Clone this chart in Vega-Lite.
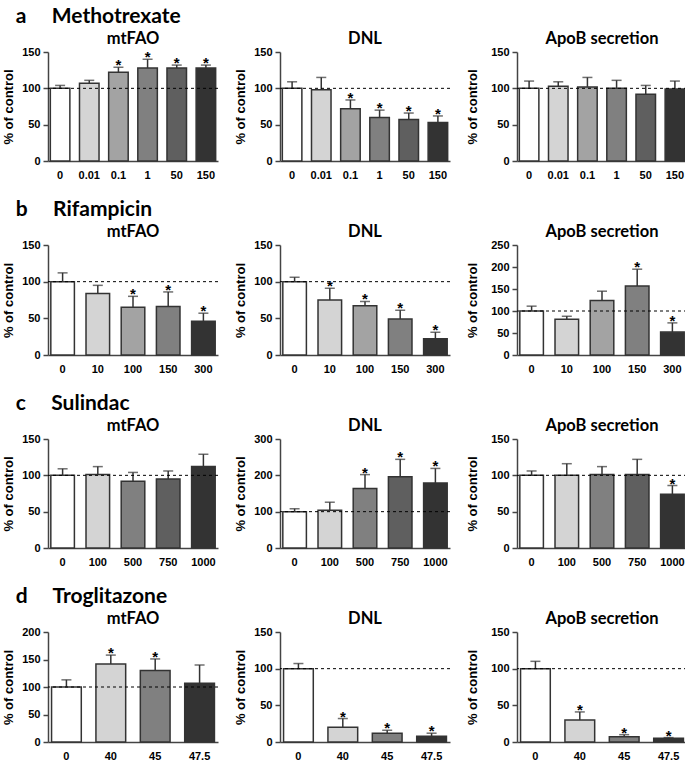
{
  "$schema": "https://vega.github.io/schema/vega-lite/v6.json",
  "padding": {"left": 2, "top": 5, "right": 0, "bottom": 0},
  "background": "white",
  "data": {"values": [
    {"drug": "Methotrexate", "assay": "mtFAO", "dose": 0, "mean": 100, "upper": 104, "sig": false},
    {"drug": "Methotrexate", "assay": "mtFAO", "dose": 0.01, "mean": 107, "upper": 111, "sig": false},
    {"drug": "Methotrexate", "assay": "mtFAO", "dose": 0.1, "mean": 122, "upper": 129, "sig": true},
    {"drug": "Methotrexate", "assay": "mtFAO", "dose": 1, "mean": 128, "upper": 140, "sig": true},
    {"drug": "Methotrexate", "assay": "mtFAO", "dose": 50, "mean": 128, "upper": 132, "sig": true},
    {"drug": "Methotrexate", "assay": "mtFAO", "dose": 150, "mean": 128, "upper": 132, "sig": true},
    {"drug": "Methotrexate", "assay": "DNL", "dose": 0, "mean": 100, "upper": 109, "sig": false},
    {"drug": "Methotrexate", "assay": "DNL", "dose": 0.01, "mean": 98, "upper": 115, "sig": false},
    {"drug": "Methotrexate", "assay": "DNL", "dose": 0.1, "mean": 72, "upper": 84, "sig": true},
    {"drug": "Methotrexate", "assay": "DNL", "dose": 1, "mean": 60, "upper": 70, "sig": true},
    {"drug": "Methotrexate", "assay": "DNL", "dose": 50, "mean": 57, "upper": 66, "sig": true},
    {"drug": "Methotrexate", "assay": "DNL", "dose": 150, "mean": 53, "upper": 62, "sig": true},
    {"drug": "Methotrexate", "assay": "ApoB", "dose": 0, "mean": 100, "upper": 110, "sig": false},
    {"drug": "Methotrexate", "assay": "ApoB", "dose": 0.01, "mean": 103, "upper": 109, "sig": false},
    {"drug": "Methotrexate", "assay": "ApoB", "dose": 0.1, "mean": 102, "upper": 115, "sig": false},
    {"drug": "Methotrexate", "assay": "ApoB", "dose": 1, "mean": 100, "upper": 111, "sig": false},
    {"drug": "Methotrexate", "assay": "ApoB", "dose": 50, "mean": 92, "upper": 104, "sig": false},
    {"drug": "Methotrexate", "assay": "ApoB", "dose": 150, "mean": 99, "upper": 110, "sig": false},
    {"drug": "Rifampicin", "assay": "mtFAO", "dose": 0, "mean": 100, "upper": 112, "sig": false},
    {"drug": "Rifampicin", "assay": "mtFAO", "dose": 10, "mean": 84, "upper": 95, "sig": false},
    {"drug": "Rifampicin", "assay": "mtFAO", "dose": 100, "mean": 65, "upper": 80, "sig": true},
    {"drug": "Rifampicin", "assay": "mtFAO", "dose": 150, "mean": 66, "upper": 86, "sig": true},
    {"drug": "Rifampicin", "assay": "mtFAO", "dose": 300, "mean": 46, "upper": 57, "sig": true},
    {"drug": "Rifampicin", "assay": "DNL", "dose": 0, "mean": 100, "upper": 106, "sig": false},
    {"drug": "Rifampicin", "assay": "DNL", "dose": 10, "mean": 75, "upper": 91, "sig": true},
    {"drug": "Rifampicin", "assay": "DNL", "dose": 100, "mean": 67, "upper": 73, "sig": true},
    {"drug": "Rifampicin", "assay": "DNL", "dose": 150, "mean": 49, "upper": 61, "sig": true},
    {"drug": "Rifampicin", "assay": "DNL", "dose": 300, "mean": 22, "upper": 31, "sig": true},
    {"drug": "Rifampicin", "assay": "ApoB", "dose": 0, "mean": 100, "upper": 111, "sig": false},
    {"drug": "Rifampicin", "assay": "ApoB", "dose": 10, "mean": 81, "upper": 88, "sig": false},
    {"drug": "Rifampicin", "assay": "ApoB", "dose": 100, "mean": 124, "upper": 145, "sig": false},
    {"drug": "Rifampicin", "assay": "ApoB", "dose": 150, "mean": 157, "upper": 195, "sig": true},
    {"drug": "Rifampicin", "assay": "ApoB", "dose": 300, "mean": 52, "upper": 73, "sig": true},
    {"drug": "Sulindac", "assay": "mtFAO", "dose": 0, "mean": 100, "upper": 109, "sig": false},
    {"drug": "Sulindac", "assay": "mtFAO", "dose": 100, "mean": 101, "upper": 112, "sig": false},
    {"drug": "Sulindac", "assay": "mtFAO", "dose": 500, "mean": 92, "upper": 104, "sig": false},
    {"drug": "Sulindac", "assay": "mtFAO", "dose": 750, "mean": 95, "upper": 106, "sig": false},
    {"drug": "Sulindac", "assay": "mtFAO", "dose": 1000, "mean": 112, "upper": 129, "sig": false},
    {"drug": "Sulindac", "assay": "DNL", "dose": 0, "mean": 100, "upper": 108, "sig": false},
    {"drug": "Sulindac", "assay": "DNL", "dose": 100, "mean": 104, "upper": 126, "sig": false},
    {"drug": "Sulindac", "assay": "DNL", "dose": 500, "mean": 164, "upper": 202, "sig": true},
    {"drug": "Sulindac", "assay": "DNL", "dose": 750, "mean": 196, "upper": 244, "sig": true},
    {"drug": "Sulindac", "assay": "DNL", "dose": 1000, "mean": 179, "upper": 219, "sig": true},
    {"drug": "Sulindac", "assay": "ApoB", "dose": 0, "mean": 100, "upper": 106, "sig": false},
    {"drug": "Sulindac", "assay": "ApoB", "dose": 100, "mean": 100, "upper": 116, "sig": false},
    {"drug": "Sulindac", "assay": "ApoB", "dose": 500, "mean": 101, "upper": 112, "sig": false},
    {"drug": "Sulindac", "assay": "ApoB", "dose": 750, "mean": 101, "upper": 122, "sig": false},
    {"drug": "Sulindac", "assay": "ApoB", "dose": 1000, "mean": 74, "upper": 86, "sig": true},
    {"drug": "Troglitazone", "assay": "mtFAO", "dose": 0, "mean": 100, "upper": 113, "sig": false},
    {"drug": "Troglitazone", "assay": "mtFAO", "dose": 40, "mean": 142, "upper": 158, "sig": true},
    {"drug": "Troglitazone", "assay": "mtFAO", "dose": 45, "mean": 130, "upper": 151, "sig": true},
    {"drug": "Troglitazone", "assay": "mtFAO", "dose": 47.5, "mean": 107, "upper": 140, "sig": false},
    {"drug": "Troglitazone", "assay": "DNL", "dose": 0, "mean": 100, "upper": 107, "sig": false},
    {"drug": "Troglitazone", "assay": "DNL", "dose": 40, "mean": 20, "upper": 32, "sig": true},
    {"drug": "Troglitazone", "assay": "DNL", "dose": 45, "mean": 12, "upper": 16, "sig": true},
    {"drug": "Troglitazone", "assay": "DNL", "dose": 47.5, "mean": 8, "upper": 12, "sig": true},
    {"drug": "Troglitazone", "assay": "ApoB", "dose": 0, "mean": 100, "upper": 110, "sig": false},
    {"drug": "Troglitazone", "assay": "ApoB", "dose": 40, "mean": 30, "upper": 41, "sig": true},
    {"drug": "Troglitazone", "assay": "ApoB", "dose": 45, "mean": 7, "upper": 10, "sig": true},
    {"drug": "Troglitazone", "assay": "ApoB", "dose": 47.5, "mean": 5, "upper": 6, "sig": true}
  ]},
  "resolve": {"scale": {"color": "independent"}},
  "spacing": 18,
  "vconcat": [
    {
      "title": {"text": "a\u00a0\u00a0\u00a0\u00a0\u00a0Methotrexate", "anchor": "start", "fontSize": 21, "offset": 4, "dx": 13},
      "spacing": 15,
      "hconcat": [
        {"title": "mtFAO", "width": 170, "height": 109,
         "transform": [{"filter": "datum.drug === 'Methotrexate' && datum.assay === 'mtFAO'"}],
         "layer": [
          {"mark": {"type": "bar", "stroke": "#333333", "strokeWidth": 1.5},
           "encoding": {
             "x": {"field": "dose", "type": "ordinal", "scale": {"paddingInner": 0.33, "paddingOuter": 0.08}, "axis": {"title": null}},
             "y": {"field": "mean", "type": "quantitative", "scale": {"domain": [0, 150], "nice": false}, "axis": {"title": "% of control", "values": [0, 50, 100, 150], "tickCount": 10}},
             "color": {"field": "dose", "type": "ordinal", "scale": {"domain": [0, 0.01, 0.1, 1, 50, 150], "range": ["#ffffff", "#d4d4d4", "#a3a3a3", "#808080", "#5f5f5f", "#333333"]}, "legend": null}}},
          {"mark": {"type": "rule", "color": "#333333", "strokeWidth": 1.5},
           "encoding": {"x": {"field": "dose", "type": "ordinal"}, "y": {"field": "mean", "type": "quantitative"}, "y2": {"field": "upper"}}},
          {"mark": {"type": "tick", "color": "#333333", "thickness": 1.5, "size": 10},
           "encoding": {"x": {"field": "dose", "type": "ordinal"}, "y": {"field": "upper", "type": "quantitative"}}},
          {"transform": [{"filter": "datum.dose === 0"}], "mark": {"type": "rule", "color": "#000000", "strokeDash": [3, 3], "strokeWidth": 1},
           "encoding": {"y": {"datum": 100}}},
          {"transform": [{"filter": "datum.sig"}], "mark": {"type": "text", "text": "*", "fontSize": 15, "fontWeight": "bold", "font": "Liberation Sans", "dy": 3, "baseline": "alphabetic"},
           "encoding": {"x": {"field": "dose", "type": "ordinal"}, "y": {"field": "upper", "type": "quantitative"}}}
         ]},
        {"title": "DNL", "width": 170, "height": 109,
         "transform": [{"filter": "datum.drug === 'Methotrexate' && datum.assay === 'DNL'"}],
         "layer": [
          {"mark": {"type": "bar", "stroke": "#333333", "strokeWidth": 1.5},
           "encoding": {
             "x": {"field": "dose", "type": "ordinal", "scale": {"paddingInner": 0.33, "paddingOuter": 0.08}, "axis": {"title": null}},
             "y": {"field": "mean", "type": "quantitative", "scale": {"domain": [0, 150], "nice": false}, "axis": {"title": "% of control", "values": [0, 50, 100, 150], "tickCount": 10}},
             "color": {"field": "dose", "type": "ordinal", "scale": {"domain": [0, 0.01, 0.1, 1, 50, 150], "range": ["#ffffff", "#d4d4d4", "#a3a3a3", "#808080", "#5f5f5f", "#333333"]}, "legend": null}}},
          {"mark": {"type": "rule", "color": "#333333", "strokeWidth": 1.5},
           "encoding": {"x": {"field": "dose", "type": "ordinal"}, "y": {"field": "mean", "type": "quantitative"}, "y2": {"field": "upper"}}},
          {"mark": {"type": "tick", "color": "#333333", "thickness": 1.5, "size": 10},
           "encoding": {"x": {"field": "dose", "type": "ordinal"}, "y": {"field": "upper", "type": "quantitative"}}},
          {"transform": [{"filter": "datum.dose === 0"}], "mark": {"type": "rule", "color": "#000000", "strokeDash": [3, 3], "strokeWidth": 1},
           "encoding": {"y": {"datum": 100}}},
          {"transform": [{"filter": "datum.sig"}], "mark": {"type": "text", "text": "*", "fontSize": 15, "fontWeight": "bold", "font": "Liberation Sans", "dy": 3, "baseline": "alphabetic"},
           "encoding": {"x": {"field": "dose", "type": "ordinal"}, "y": {"field": "upper", "type": "quantitative"}}}
         ]},
        {"title": "ApoB secretion", "width": 170, "height": 109,
         "transform": [{"filter": "datum.drug === 'Methotrexate' && datum.assay === 'ApoB'"}],
         "layer": [
          {"mark": {"type": "bar", "stroke": "#333333", "strokeWidth": 1.5},
           "encoding": {
             "x": {"field": "dose", "type": "ordinal", "scale": {"paddingInner": 0.33, "paddingOuter": 0.08}, "axis": {"title": null}},
             "y": {"field": "mean", "type": "quantitative", "scale": {"domain": [0, 150], "nice": false}, "axis": {"title": "% of control", "values": [0, 50, 100, 150], "tickCount": 10, "titlePadding": 11}},
             "color": {"field": "dose", "type": "ordinal", "scale": {"domain": [0, 0.01, 0.1, 1, 50, 150], "range": ["#ffffff", "#d4d4d4", "#a3a3a3", "#808080", "#5f5f5f", "#333333"]}, "legend": null}}},
          {"mark": {"type": "rule", "color": "#333333", "strokeWidth": 1.5},
           "encoding": {"x": {"field": "dose", "type": "ordinal"}, "y": {"field": "mean", "type": "quantitative"}, "y2": {"field": "upper"}}},
          {"mark": {"type": "tick", "color": "#333333", "thickness": 1.5, "size": 10},
           "encoding": {"x": {"field": "dose", "type": "ordinal"}, "y": {"field": "upper", "type": "quantitative"}}},
          {"transform": [{"filter": "datum.dose === 0"}], "mark": {"type": "rule", "color": "#000000", "strokeDash": [3, 3], "strokeWidth": 1},
           "encoding": {"y": {"datum": 100}}},
          {"transform": [{"filter": "datum.sig"}], "mark": {"type": "text", "text": "*", "fontSize": 15, "fontWeight": "bold", "font": "Liberation Sans", "dy": 3, "baseline": "alphabetic"},
           "encoding": {"x": {"field": "dose", "type": "ordinal"}, "y": {"field": "upper", "type": "quantitative"}}}
         ]}
      ]
    },
    {
      "title": {"text": "b\u00a0\u00a0\u00a0\u00a0\u00a0Rifampicin", "anchor": "start", "fontSize": 21, "offset": 4, "dx": 13},
      "spacing": 15,
      "hconcat": [
        {"title": "mtFAO", "width": 170, "height": 110,
         "transform": [{"filter": "datum.drug === 'Rifampicin' && datum.assay === 'mtFAO'"}],
         "layer": [
          {"mark": {"type": "bar", "stroke": "#333333", "strokeWidth": 1.5},
           "encoding": {
             "x": {"field": "dose", "type": "ordinal", "scale": {"paddingInner": 0.33, "paddingOuter": 0.08}, "axis": {"title": null}},
             "y": {"field": "mean", "type": "quantitative", "scale": {"domain": [0, 150], "nice": false}, "axis": {"title": "% of control", "values": [0, 50, 100, 150], "tickCount": 10}},
             "color": {"field": "dose", "type": "ordinal", "scale": {"domain": [0, 10, 100, 150, 300], "range": ["#ffffff", "#d4d4d4", "#a3a3a3", "#808080", "#333333"]}, "legend": null}}},
          {"mark": {"type": "rule", "color": "#333333", "strokeWidth": 1.5},
           "encoding": {"x": {"field": "dose", "type": "ordinal"}, "y": {"field": "mean", "type": "quantitative"}, "y2": {"field": "upper"}}},
          {"mark": {"type": "tick", "color": "#333333", "thickness": 1.5, "size": 10},
           "encoding": {"x": {"field": "dose", "type": "ordinal"}, "y": {"field": "upper", "type": "quantitative"}}},
          {"transform": [{"filter": "datum.dose === 0"}], "mark": {"type": "rule", "color": "#000000", "strokeDash": [3, 3], "strokeWidth": 1},
           "encoding": {"y": {"datum": 100}}},
          {"transform": [{"filter": "datum.sig"}], "mark": {"type": "text", "text": "*", "fontSize": 15, "fontWeight": "bold", "font": "Liberation Sans", "dy": 3, "baseline": "alphabetic"},
           "encoding": {"x": {"field": "dose", "type": "ordinal"}, "y": {"field": "upper", "type": "quantitative"}}}
         ]},
        {"title": "DNL", "width": 170, "height": 110,
         "transform": [{"filter": "datum.drug === 'Rifampicin' && datum.assay === 'DNL'"}],
         "layer": [
          {"mark": {"type": "bar", "stroke": "#333333", "strokeWidth": 1.5},
           "encoding": {
             "x": {"field": "dose", "type": "ordinal", "scale": {"paddingInner": 0.33, "paddingOuter": 0.08}, "axis": {"title": null}},
             "y": {"field": "mean", "type": "quantitative", "scale": {"domain": [0, 150], "nice": false}, "axis": {"title": "% of control", "values": [0, 50, 100, 150], "tickCount": 10}},
             "color": {"field": "dose", "type": "ordinal", "scale": {"domain": [0, 10, 100, 150, 300], "range": ["#ffffff", "#d4d4d4", "#a3a3a3", "#808080", "#333333"]}, "legend": null}}},
          {"mark": {"type": "rule", "color": "#333333", "strokeWidth": 1.5},
           "encoding": {"x": {"field": "dose", "type": "ordinal"}, "y": {"field": "mean", "type": "quantitative"}, "y2": {"field": "upper"}}},
          {"mark": {"type": "tick", "color": "#333333", "thickness": 1.5, "size": 10},
           "encoding": {"x": {"field": "dose", "type": "ordinal"}, "y": {"field": "upper", "type": "quantitative"}}},
          {"transform": [{"filter": "datum.dose === 0"}], "mark": {"type": "rule", "color": "#000000", "strokeDash": [3, 3], "strokeWidth": 1},
           "encoding": {"y": {"datum": 100}}},
          {"transform": [{"filter": "datum.sig"}], "mark": {"type": "text", "text": "*", "fontSize": 15, "fontWeight": "bold", "font": "Liberation Sans", "dy": 3, "baseline": "alphabetic"},
           "encoding": {"x": {"field": "dose", "type": "ordinal"}, "y": {"field": "upper", "type": "quantitative"}}}
         ]},
        {"title": "ApoB secretion", "width": 170, "height": 110,
         "transform": [{"filter": "datum.drug === 'Rifampicin' && datum.assay === 'ApoB'"}],
         "layer": [
          {"mark": {"type": "bar", "stroke": "#333333", "strokeWidth": 1.5},
           "encoding": {
             "x": {"field": "dose", "type": "ordinal", "scale": {"paddingInner": 0.33, "paddingOuter": 0.08}, "axis": {"title": null}},
             "y": {"field": "mean", "type": "quantitative", "scale": {"domain": [0, 250], "nice": false}, "axis": {"title": "% of control", "values": [0, 50, 100, 150, 200, 250], "tickCount": 10, "titlePadding": 11}},
             "color": {"field": "dose", "type": "ordinal", "scale": {"domain": [0, 10, 100, 150, 300], "range": ["#ffffff", "#d4d4d4", "#a3a3a3", "#808080", "#333333"]}, "legend": null}}},
          {"mark": {"type": "rule", "color": "#333333", "strokeWidth": 1.5},
           "encoding": {"x": {"field": "dose", "type": "ordinal"}, "y": {"field": "mean", "type": "quantitative"}, "y2": {"field": "upper"}}},
          {"mark": {"type": "tick", "color": "#333333", "thickness": 1.5, "size": 10},
           "encoding": {"x": {"field": "dose", "type": "ordinal"}, "y": {"field": "upper", "type": "quantitative"}}},
          {"transform": [{"filter": "datum.dose === 0"}], "mark": {"type": "rule", "color": "#000000", "strokeDash": [3, 3], "strokeWidth": 1},
           "encoding": {"y": {"datum": 100}}},
          {"transform": [{"filter": "datum.sig"}], "mark": {"type": "text", "text": "*", "fontSize": 15, "fontWeight": "bold", "font": "Liberation Sans", "dy": 3, "baseline": "alphabetic"},
           "encoding": {"x": {"field": "dose", "type": "ordinal"}, "y": {"field": "upper", "type": "quantitative"}}}
         ]}
      ]
    },
    {
      "title": {"text": "c\u00a0\u00a0\u00a0\u00a0\u00a0Sulindac", "anchor": "start", "fontSize": 21, "offset": 4, "dx": 13},
      "spacing": 15,
      "hconcat": [
        {"title": "mtFAO", "width": 170, "height": 109,
         "transform": [{"filter": "datum.drug === 'Sulindac' && datum.assay === 'mtFAO'"}],
         "layer": [
          {"mark": {"type": "bar", "stroke": "#333333", "strokeWidth": 1.5},
           "encoding": {
             "x": {"field": "dose", "type": "ordinal", "scale": {"paddingInner": 0.33, "paddingOuter": 0.08}, "axis": {"title": null}},
             "y": {"field": "mean", "type": "quantitative", "scale": {"domain": [0, 150], "nice": false}, "axis": {"title": "% of control", "values": [0, 50, 100, 150], "tickCount": 10}},
             "color": {"field": "dose", "type": "ordinal", "scale": {"domain": [0, 100, 500, 750, 1000], "range": ["#ffffff", "#d4d4d4", "#808080", "#5f5f5f", "#333333"]}, "legend": null}}},
          {"mark": {"type": "rule", "color": "#333333", "strokeWidth": 1.5},
           "encoding": {"x": {"field": "dose", "type": "ordinal"}, "y": {"field": "mean", "type": "quantitative"}, "y2": {"field": "upper"}}},
          {"mark": {"type": "tick", "color": "#333333", "thickness": 1.5, "size": 10},
           "encoding": {"x": {"field": "dose", "type": "ordinal"}, "y": {"field": "upper", "type": "quantitative"}}},
          {"transform": [{"filter": "datum.dose === 0"}], "mark": {"type": "rule", "color": "#000000", "strokeDash": [3, 3], "strokeWidth": 1},
           "encoding": {"y": {"datum": 100}}},
          {"transform": [{"filter": "datum.sig"}], "mark": {"type": "text", "text": "*", "fontSize": 15, "fontWeight": "bold", "font": "Liberation Sans", "dy": 3, "baseline": "alphabetic"},
           "encoding": {"x": {"field": "dose", "type": "ordinal"}, "y": {"field": "upper", "type": "quantitative"}}}
         ]},
        {"title": "DNL", "width": 170, "height": 109,
         "transform": [{"filter": "datum.drug === 'Sulindac' && datum.assay === 'DNL'"}],
         "layer": [
          {"mark": {"type": "bar", "stroke": "#333333", "strokeWidth": 1.5},
           "encoding": {
             "x": {"field": "dose", "type": "ordinal", "scale": {"paddingInner": 0.33, "paddingOuter": 0.08}, "axis": {"title": null}},
             "y": {"field": "mean", "type": "quantitative", "scale": {"domain": [0, 300], "nice": false}, "axis": {"title": "% of control", "values": [0, 100, 200, 300], "tickCount": 10}},
             "color": {"field": "dose", "type": "ordinal", "scale": {"domain": [0, 100, 500, 750, 1000], "range": ["#ffffff", "#d4d4d4", "#808080", "#5f5f5f", "#333333"]}, "legend": null}}},
          {"mark": {"type": "rule", "color": "#333333", "strokeWidth": 1.5},
           "encoding": {"x": {"field": "dose", "type": "ordinal"}, "y": {"field": "mean", "type": "quantitative"}, "y2": {"field": "upper"}}},
          {"mark": {"type": "tick", "color": "#333333", "thickness": 1.5, "size": 10},
           "encoding": {"x": {"field": "dose", "type": "ordinal"}, "y": {"field": "upper", "type": "quantitative"}}},
          {"transform": [{"filter": "datum.dose === 0"}], "mark": {"type": "rule", "color": "#000000", "strokeDash": [3, 3], "strokeWidth": 1},
           "encoding": {"y": {"datum": 100}}},
          {"transform": [{"filter": "datum.sig"}], "mark": {"type": "text", "text": "*", "fontSize": 15, "fontWeight": "bold", "font": "Liberation Sans", "dy": 3, "baseline": "alphabetic"},
           "encoding": {"x": {"field": "dose", "type": "ordinal"}, "y": {"field": "upper", "type": "quantitative"}}}
         ]},
        {"title": "ApoB secretion", "width": 170, "height": 109,
         "transform": [{"filter": "datum.drug === 'Sulindac' && datum.assay === 'ApoB'"}],
         "layer": [
          {"mark": {"type": "bar", "stroke": "#333333", "strokeWidth": 1.5},
           "encoding": {
             "x": {"field": "dose", "type": "ordinal", "scale": {"paddingInner": 0.33, "paddingOuter": 0.08}, "axis": {"title": null}},
             "y": {"field": "mean", "type": "quantitative", "scale": {"domain": [0, 150], "nice": false}, "axis": {"title": "% of control", "values": [0, 50, 100, 150], "tickCount": 10, "titlePadding": 11}},
             "color": {"field": "dose", "type": "ordinal", "scale": {"domain": [0, 100, 500, 750, 1000], "range": ["#ffffff", "#d4d4d4", "#808080", "#5f5f5f", "#333333"]}, "legend": null}}},
          {"mark": {"type": "rule", "color": "#333333", "strokeWidth": 1.5},
           "encoding": {"x": {"field": "dose", "type": "ordinal"}, "y": {"field": "mean", "type": "quantitative"}, "y2": {"field": "upper"}}},
          {"mark": {"type": "tick", "color": "#333333", "thickness": 1.5, "size": 10},
           "encoding": {"x": {"field": "dose", "type": "ordinal"}, "y": {"field": "upper", "type": "quantitative"}}},
          {"transform": [{"filter": "datum.dose === 0"}], "mark": {"type": "rule", "color": "#000000", "strokeDash": [3, 3], "strokeWidth": 1},
           "encoding": {"y": {"datum": 100}}},
          {"transform": [{"filter": "datum.sig"}], "mark": {"type": "text", "text": "*", "fontSize": 15, "fontWeight": "bold", "font": "Liberation Sans", "dy": 3, "baseline": "alphabetic"},
           "encoding": {"x": {"field": "dose", "type": "ordinal"}, "y": {"field": "upper", "type": "quantitative"}}}
         ]}
      ]
    },
    {
      "title": {"text": "d\u00a0\u00a0\u00a0\u00a0\u00a0Troglitazone", "anchor": "start", "fontSize": 21, "offset": 4, "dx": 13},
      "spacing": 15,
      "hconcat": [
        {"title": "mtFAO", "width": 170, "height": 110,
         "transform": [{"filter": "datum.drug === 'Troglitazone' && datum.assay === 'mtFAO'"}],
         "layer": [
          {"mark": {"type": "bar", "stroke": "#333333", "strokeWidth": 1.5},
           "encoding": {
             "x": {"field": "dose", "type": "ordinal", "scale": {"paddingInner": 0.33, "paddingOuter": 0.08}, "axis": {"title": null}},
             "y": {"field": "mean", "type": "quantitative", "scale": {"domain": [0, 200], "nice": false}, "axis": {"title": "% of control", "values": [0, 50, 100, 150, 200], "tickCount": 10}},
             "color": {"field": "dose", "type": "ordinal", "scale": {"domain": [0, 40, 45, 47.5], "range": ["#ffffff", "#d4d4d4", "#808080", "#333333"]}, "legend": null}}},
          {"mark": {"type": "rule", "color": "#333333", "strokeWidth": 1.5},
           "encoding": {"x": {"field": "dose", "type": "ordinal"}, "y": {"field": "mean", "type": "quantitative"}, "y2": {"field": "upper"}}},
          {"mark": {"type": "tick", "color": "#333333", "thickness": 1.5, "size": 10},
           "encoding": {"x": {"field": "dose", "type": "ordinal"}, "y": {"field": "upper", "type": "quantitative"}}},
          {"transform": [{"filter": "datum.dose === 0"}], "mark": {"type": "rule", "color": "#000000", "strokeDash": [3, 3], "strokeWidth": 1},
           "encoding": {"y": {"datum": 100}}},
          {"transform": [{"filter": "datum.sig"}], "mark": {"type": "text", "text": "*", "fontSize": 15, "fontWeight": "bold", "font": "Liberation Sans", "dy": 3, "baseline": "alphabetic"},
           "encoding": {"x": {"field": "dose", "type": "ordinal"}, "y": {"field": "upper", "type": "quantitative"}}}
         ]},
        {"title": "DNL", "width": 170, "height": 110,
         "transform": [{"filter": "datum.drug === 'Troglitazone' && datum.assay === 'DNL'"}],
         "layer": [
          {"mark": {"type": "bar", "stroke": "#333333", "strokeWidth": 1.5},
           "encoding": {
             "x": {"field": "dose", "type": "ordinal", "scale": {"paddingInner": 0.33, "paddingOuter": 0.08}, "axis": {"title": null}},
             "y": {"field": "mean", "type": "quantitative", "scale": {"domain": [0, 150], "nice": false}, "axis": {"title": "% of control", "values": [0, 50, 100, 150], "tickCount": 10}},
             "color": {"field": "dose", "type": "ordinal", "scale": {"domain": [0, 40, 45, 47.5], "range": ["#ffffff", "#d4d4d4", "#808080", "#333333"]}, "legend": null}}},
          {"mark": {"type": "rule", "color": "#333333", "strokeWidth": 1.5},
           "encoding": {"x": {"field": "dose", "type": "ordinal"}, "y": {"field": "mean", "type": "quantitative"}, "y2": {"field": "upper"}}},
          {"mark": {"type": "tick", "color": "#333333", "thickness": 1.5, "size": 10},
           "encoding": {"x": {"field": "dose", "type": "ordinal"}, "y": {"field": "upper", "type": "quantitative"}}},
          {"transform": [{"filter": "datum.dose === 0"}], "mark": {"type": "rule", "color": "#000000", "strokeDash": [3, 3], "strokeWidth": 1},
           "encoding": {"y": {"datum": 100}}},
          {"transform": [{"filter": "datum.sig"}], "mark": {"type": "text", "text": "*", "fontSize": 15, "fontWeight": "bold", "font": "Liberation Sans", "dy": 3, "baseline": "alphabetic"},
           "encoding": {"x": {"field": "dose", "type": "ordinal"}, "y": {"field": "upper", "type": "quantitative"}}}
         ]},
        {"title": "ApoB secretion", "width": 170, "height": 110,
         "transform": [{"filter": "datum.drug === 'Troglitazone' && datum.assay === 'ApoB'"}],
         "layer": [
          {"mark": {"type": "bar", "stroke": "#333333", "strokeWidth": 1.5},
           "encoding": {
             "x": {"field": "dose", "type": "ordinal", "scale": {"paddingInner": 0.33, "paddingOuter": 0.08}, "axis": {"title": null}},
             "y": {"field": "mean", "type": "quantitative", "scale": {"domain": [0, 150], "nice": false}, "axis": {"title": "% of control", "values": [0, 50, 100, 150], "tickCount": 10, "titlePadding": 11}},
             "color": {"field": "dose", "type": "ordinal", "scale": {"domain": [0, 40, 45, 47.5], "range": ["#ffffff", "#d4d4d4", "#808080", "#333333"]}, "legend": null}}},
          {"mark": {"type": "rule", "color": "#333333", "strokeWidth": 1.5},
           "encoding": {"x": {"field": "dose", "type": "ordinal"}, "y": {"field": "mean", "type": "quantitative"}, "y2": {"field": "upper"}}},
          {"mark": {"type": "tick", "color": "#333333", "thickness": 1.5, "size": 10},
           "encoding": {"x": {"field": "dose", "type": "ordinal"}, "y": {"field": "upper", "type": "quantitative"}}},
          {"transform": [{"filter": "datum.dose === 0"}], "mark": {"type": "rule", "color": "#000000", "strokeDash": [3, 3], "strokeWidth": 1},
           "encoding": {"y": {"datum": 100}}},
          {"transform": [{"filter": "datum.sig"}], "mark": {"type": "text", "text": "*", "fontSize": 15, "fontWeight": "bold", "font": "Liberation Sans", "dy": 3, "baseline": "alphabetic"},
           "encoding": {"x": {"field": "dose", "type": "ordinal"}, "y": {"field": "upper", "type": "quantitative"}}}
         ]}
      ]
    }
  ],
  "config": {
    "view": {"stroke": null},
    "axis": {"grid": false, "domainColor": "#444444", "domainWidth": 1.5, "tickColor": "#444444", "tickWidth": 1.5,
             "labelFont": "Liberation Sans", "labelFontWeight": "bold", "labelFontSize": 11, "labelColor": "#000000",
             "titleFont": "Liberation Sans", "titleFontWeight": "bold", "titleFontSize": 13, "titleColor": "#000000"},
    "axisX": {"ticks": false, "labelAngle": 0, "labelPadding": 8},
    "axisY": {"ticks": true, "tickSize": 5, "titlePadding": 6, "labelPadding": 3, "labelOverlap": false},
    "title": {"font": "Lato", "fontWeight": "bold", "fontSize": 16.5, "color": "#000000", "offset": -1}
  }
}
